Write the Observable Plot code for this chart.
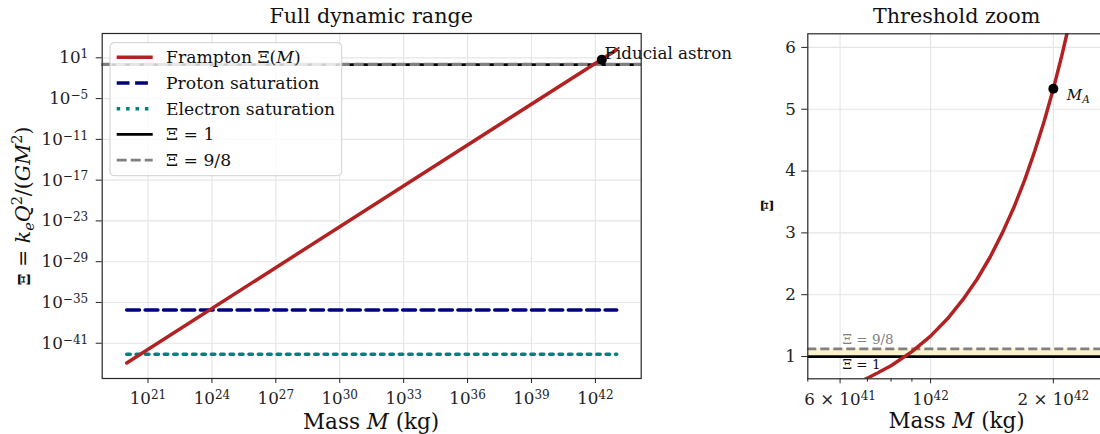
<!DOCTYPE html>
<html><head><meta charset="utf-8">
<script src="https://cdn.jsdelivr.net/npm/d3@7"></script>
<script src="https://cdn.jsdelivr.net/npm/@observablehq/plot@0.6"></script>
<style>
body{margin:0;background:#fff;}
#root{position:relative;width:1100px;height:434px;overflow:hidden;font-family:"DejaVu Serif",serif;background:#fff;}
#root svg{position:absolute;top:0;}
</style></head><body><div id="root"></div>
<script>
// ---------- data ----------
const framptonMass = [1e20, 1e43];
const framptonXi = [10 ** -43.9, 10 ** 2.2];
const saturationMass = [1e20, 1e43];
const protonSaturation = 8.1e-37;
const electronSaturation = 2.4e-43;
const xiOne = 1;
const xiNineEighths = 9 / 8;
const fiducialMass = 2e42;
const fiducialXi = 5.33;
const zoomMass = [6.9e41, 7e41, 8e41, 9e41, 1.0e42, 1.1e42, 1.2e42, 1.3e42, 1.4e42, 1.5e42, 1.6e42, 1.7e42, 1.8e42, 1.9e42, 2.0e42, 2.1e42, 2.2e42];
const zoomXi   = [0.63, 0.65, 0.85, 1.08, 1.33, 1.61, 1.92, 2.25, 2.61, 3.0, 3.41, 3.85, 4.32, 4.81, 5.33, 5.88, 6.45];
const leftXTicks = [1e21, 1e24, 1e27, 1e30, 1e33, 1e36, 1e39, 1e42];
const leftYTicks = [1e1, 1e-5, 1e-11, 1e-17, 1e-23, 1e-29, 1e-35, 1e-41];
const rightXTicks = [6e41, 1e42, 2e42];
const rightXTickLabels = ["6 × 10^41", "10^42", "2 × 10^42"];
const rightXMinorTicks = [5e41, 7e41, 8e41, 9e41];
const rightYTicks = [1, 2, 3, 4, 5, 6];
const legendLabels = ["Frampton Ξ(M)", "Proton saturation", "Electron saturation", "Ξ = 1", "Ξ = 9/8"];

// ---------- derived rows ----------
const framptonRows = framptonMass.map((m, i) => ({m, xi: framptonXi[i]}));
const protonRows = saturationMass.map(m => ({m, xi: protonSaturation}));
const electronRows = saturationMass.map(m => ({m, xi: electronSaturation}));
const zoomRows = zoomMass.map((m, i) => ({m, xi: zoomXi[i]}));
const fiducial = [{m: fiducialMass, xi: fiducialXi}];

const RED = "#b22222", NAVY = "#000080", TEAL = "#008080", GRID = "#e5e5e5", INK = "#222";
const TICK_FS = 16.7, LEGEND_FS = 17.2, TITLE_FS = 20.7, LABEL_FS = 21.5, YLABEL_FS = 20.5;

function supify(svg) {
  d3.select(svg).selectAll('g[aria-label$="tick label"] text').each(function () {
    const t = this.textContent;
    const m = t.match(/^(.*?)10\^(.+)$/);
    if (!m) return;
    const sel = d3.select(this);
    sel.text(null);
    sel.append("tspan").text(m[1] + "10");
    sel.append("tspan").attr("dy", "-0.42em").attr("font-size", "0.72em").text(m[2]);
  });
}
const expFmt = d => "10^" + String(Math.round(Math.log10(d))).replace("-", "\u2212");

const style = {fontFamily: "DejaVu Serif", fontSize: TICK_FS + "px", color: INK, background: "transparent", overflow: "visible"};

// ---------- left panel ----------
const left = Plot.plot({
  width: 760, height: 434,
  marginLeft: 101.7, marginRight: 119.3, marginTop: 33, marginBottom: 56,
  style,
  x: {type: "log", domain: [10 ** 18.85, 10 ** 44.15]},
  y: {type: "log", domain: [10 ** -46.19, 10 ** 4.58]},
  marks: [
    Plot.gridX(leftXTicks, {stroke: GRID, strokeOpacity: 1, strokeWidth: 1.1}),
    Plot.gridY(leftYTicks, {stroke: GRID, strokeOpacity: 1, strokeWidth: 1.1}),
    Plot.ruleY([xiOne], {stroke: "black", strokeWidth: 2.6}),
    Plot.ruleY([xiNineEighths], {stroke: "gray", strokeWidth: 3.2, strokeDasharray: "10,4"}),
    Plot.line(protonRows, {x: "m", y: "xi", stroke: NAVY, strokeWidth: 3.5, strokeDasharray: "12.8,5.6"}),
    Plot.line(electronRows, {x: "m", y: "xi", stroke: TEAL, strokeWidth: 3.5, strokeDasharray: "3.5,5.9"}),
    Plot.line(framptonRows, {x: "m", y: "xi", stroke: RED, strokeWidth: 3.5}),
    Plot.dot(fiducial, {x: "m", y: "xi", r: 5, fill: "black"}),
    Plot.text(fiducial, {x: "m", y: "xi", text: () => "Fiducial astron", textAnchor: "start", lineAnchor: "middle", dx: 2.6, dy: -6, fontSize: TICK_FS, fill: "#111"}),
    Plot.frame({stroke: "#262626", strokeWidth: 1.2}),
    Plot.axisX({ticks: leftXTicks, tickSize: 5, tickPadding: 9, tickFormat: expFmt, label: null, fontSize: TICK_FS}),
    Plot.axisY({ticks: leftYTicks, tickSize: 6, tickPadding: 8, tickFormat: expFmt, label: null, fontSize: TICK_FS})
  ]
});
supify(left);
document.getElementById("root").appendChild(left);
d3.select(left).style("left", "0px");

{
  const s = d3.select(left);
  const cx = (101.7 + 640.7) / 2;
  s.append("text").attr("x", cx).attr("y", 23.3).attr("text-anchor", "middle").attr("font-size", TITLE_FS).attr("fill", "#111").text("Full dynamic range");
  const xl = s.append("text").attr("x", cx).attr("y", 429).attr("text-anchor", "middle").attr("font-size", LABEL_FS).attr("fill", "#111");
  xl.append("tspan").text("Mass ");
  xl.append("tspan").attr("font-style", "italic").text("M");
  xl.append("tspan").text(" (kg)");
  const yl = s.append("text").attr("transform", "translate(30,206) rotate(-90)").attr("text-anchor", "middle").attr("font-size", YLABEL_FS).attr("fill", "#111");
  yl.append("tspan").attr("font-weight", "bold").attr("font-size", 17).text("Ξ");
  yl.append("tspan").text(" = ");
  yl.append("tspan").attr("font-style", "italic").text("k");
  yl.append("tspan").attr("font-style", "italic").attr("font-size", 14.5).attr("dy", 4).text("e");
  yl.append("tspan").attr("font-style", "italic").attr("dy", -4).text("Q");
  yl.append("tspan").attr("font-size", 14.5).attr("dy", -8).text("2");
  yl.append("tspan").attr("dy", 8).text("/(");
  yl.append("tspan").attr("font-style", "italic").text("GM");
  yl.append("tspan").attr("font-size", 14.5).attr("dy", -8).text("2");
  yl.append("tspan").attr("dy", 8).text(")");

  // legend
  const lg = s.append("g").attr("text-anchor", "start");
  lg.append("rect").attr("x", 110).attr("y", 42.7).attr("width", 231.7).attr("height", 133).attr("rx", 4)
    .attr("fill", "white").attr("fill-opacity", 0.8).attr("stroke", "#d0d0d0").attr("stroke-width", 1);
  const handles = [
    {stroke: RED, w: 3.5, dash: null},
    {stroke: NAVY, w: 3.5, dash: "12.8,5.6"},
    {stroke: TEAL, w: 3.5, dash: "3.5,5.9"},
    {stroke: "black", w: 2.8, dash: null},
    {stroke: "gray", w: 2.8, dash: "10,4"}
  ];
  legendLabels.forEach((lab, i) => {
    const y = 57.3 + i * 25.7;
    const h = handles[i];
    lg.append("line").attr("x1", 116.7).attr("x2", 152.7).attr("y1", y).attr("y2", y)
      .attr("stroke", h.stroke).attr("stroke-width", h.w).attr("stroke-dasharray", h.dash);
    const t = lg.append("text").attr("x", 166).attr("y", y).attr("dy", "0.35em").attr("text-anchor", "start").attr("font-size", LEGEND_FS).attr("fill", "#111");
    if (lab.includes("(M)")) {
      t.append("tspan").text("Frampton Ξ(");
      t.append("tspan").attr("font-style", "italic").text("M");
      t.append("tspan").text(")");
    } else t.text(lab);
  });
}

// ---------- right panel ----------
const right = Plot.plot({
  width: 366, height: 434,
  marginLeft: 67.3, marginRight: 0, marginTop: 33.3, marginBottom: 55.7,
  style,
  x: {type: "log", domain: [5e41, 2.7e42]},
  y: {domain: [0.64, 6.22]},
  marks: [
    Plot.gridX(rightXTicks, {stroke: GRID, strokeOpacity: 1, strokeWidth: 1.1}),
    Plot.gridY(rightYTicks, {stroke: GRID, strokeOpacity: 1, strokeWidth: 1.1}),
    Plot.rect([0], {x1: 5e41, x2: 2.7e42, y1: xiOne, y2: xiNineEighths, fill: "#fcf2cc"}),
    Plot.ruleY([xiOne], {stroke: "black", strokeWidth: 2.7}),
    Plot.ruleY([xiNineEighths], {stroke: "gray", strokeWidth: 2.7, strokeDasharray: "9,4"}),
    Plot.line(zoomRows, {x: "m", y: "xi", stroke: RED, strokeWidth: 3.5, clip: true}),
    Plot.dot(fiducial, {x: "m", y: "xi", r: 5, fill: "black"}),
    Plot.frame({stroke: "#262626", strokeWidth: 1.2}),
    Plot.axisX({ticks: rightXMinorTicks, tickSize: 3.3, tickFormat: () => "", label: null}),
    Plot.axisX({ticks: rightXTicks, tickSize: 5, tickPadding: 9, tickFormat: d => rightXTickLabels[rightXTicks.indexOf(d)], label: null, fontSize: TICK_FS}),
    Plot.axisY({ticks: rightYTicks, tickSize: 6, tickPadding: 6, tickFormat: d => String(d), label: null, fontSize: TICK_FS})
  ]
});
supify(right);
document.getElementById("root").appendChild(right);
d3.select(right).style("left", "740px");

{
  const s = d3.select(right);
  const X = right.scale("x"), Y = right.scale("y");
  const cx = (67.3 + 366) / 2;
  s.append("text").attr("x", cx).attr("y", 23.3).attr("text-anchor", "middle").attr("font-size", TITLE_FS).attr("fill", "#111").text("Threshold zoom");
  const xl = s.append("text").attr("x", cx).attr("y", 427.7).attr("text-anchor", "middle").attr("font-size", LABEL_FS).attr("fill", "#111");
  xl.append("tspan").text("Mass ");
  xl.append("tspan").attr("font-style", "italic").text("M");
  xl.append("tspan").text(" (kg)");
  s.append("text").attr("transform", "translate(33,205.8) rotate(-90)").attr("text-anchor", "middle").attr("font-size", 17).attr("font-weight", "bold").attr("fill", "#111").text("Ξ");

  // threshold labels
  const lx = X.apply(6.1e41);
  s.append("text").attr("x", lx).attr("y", Y.apply(xiNineEighths) - 4).attr("text-anchor", "start").attr("font-size", 13.5).attr("fill", "gray").text("Ξ = 9/8");
  const y1 = Y.apply(xiOne);
  s.append("rect").attr("x", lx - 1).attr("y", y1 + 2.5).attr("width", 36).attr("height", 13).attr("fill", "white").attr("fill-opacity", 0.8);
  s.append("text").attr("x", lx).attr("y", y1 + 13).attr("text-anchor", "start").attr("font-size", 13.5).attr("fill", "#111").text("Ξ = 1");

  // M_A label
  const mx = X.apply(fiducialMass) + 14, my = Y.apply(fiducialXi) + 12;
  const ma = s.append("text").attr("x", mx).attr("y", my).attr("text-anchor", "start").attr("font-size", 15).attr("fill", "#111");
  ma.append("tspan").attr("font-style", "italic").text("M");
  ma.append("tspan").attr("font-style", "italic").attr("font-size", 10.5).attr("dy", 3).text("A");
}
</script>
</body></html>
